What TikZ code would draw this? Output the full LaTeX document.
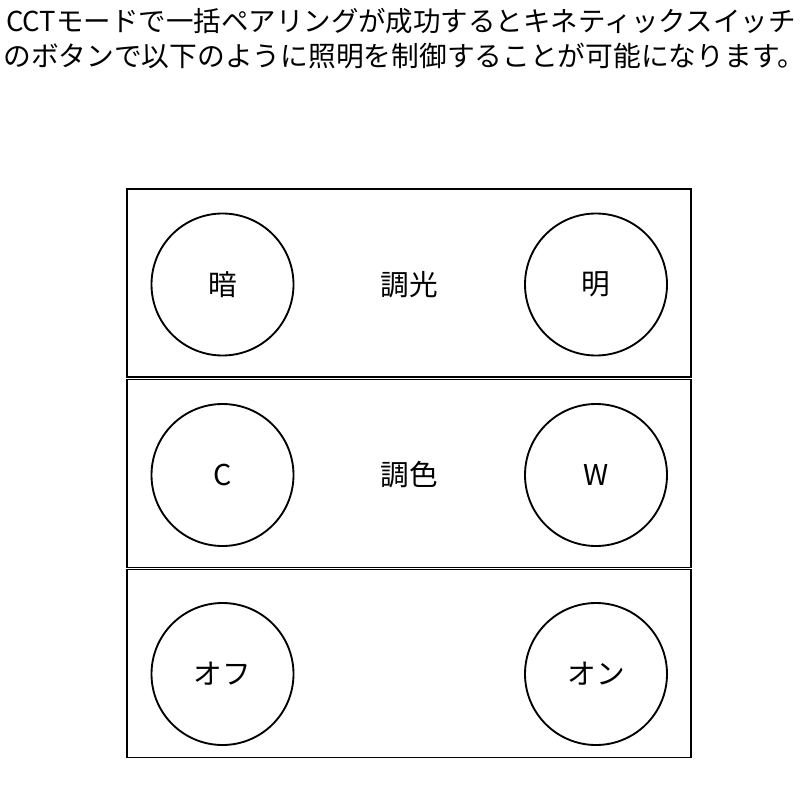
\documentclass[tikz,border=0pt]{standalone}
\usepackage{fontspec}
\setmainfont{Noto Sans CJK JP}
\usetikzlibrary{positioning}

\tikzset{
  panel/.style={draw, line width=1.4pt, rectangle, minimum width=564*0.75pt, minimum height=188*0.75pt, inner sep=0pt},
  knob/.style={draw, line width=1.4pt, circle, minimum size=142*0.75pt, inner sep=0pt, font=\fontsize{21.5}{26}\selectfont},
  caption/.style={font=\fontsize{21.5}{26}\selectfont},
  heading/.style={font=\fontsize{20.6}{25}\selectfont, anchor=west, inner sep=0pt},
}

\begin{document}
\begin{tikzpicture}[x=0.75pt, y=-0.75pt]

\useasboundingbox (0,0) rectangle (805,802);

% Heading
\node[heading] (head1) at (6,21) {CCTモードで一括ペアリングが成功するとキネティックスイッチ};
\node[heading, font=\fontsize{20.8}{25}\selectfont] (head2) at (3,56) {のボタンで以下のように照明を制御することが可能になります。};

% Button rows
\foreach \n/\y/\k/\lft/\mid/\rgt in {1/283/284.5/暗/調光/明, 2/473.5/475/C/調色/W, 3/663.5/674/オフ//オン} {
    \node[panel] (row\n) at (409,\y) {};
    \node[knob] (dn\n) at (222.5,\k) {\lft};
    \node[knob] (up\n) at (596,\k) {\rgt};
    \node[caption] (lbl\n) at (409,\k) {\mid};
}

\end{tikzpicture}
\end{document}
